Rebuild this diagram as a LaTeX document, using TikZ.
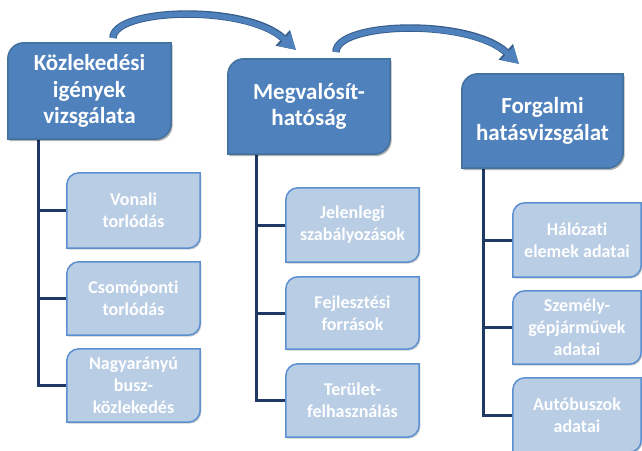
\documentclass[tikz,border=0pt]{standalone}
\usepackage{fontspec}
\setmainfont[Ligatures=NoCommon]{Carlito}
\usetikzlibrary{arrows.meta,backgrounds,shadows,calc}
\definecolor{topfill}{HTML}{4F81BD}
\definecolor{topedge}{HTML}{41719C}
\definecolor{subfill}{HTML}{B9CDE5}
\definecolor{subedge}{HTML}{5B8FD0}
\definecolor{connclr}{HTML}{1F3864}
\definecolor{arrowedge}{HTML}{385D8A}
\newcommand\diagshape[3]{%
  \path[#3] ([yshift=-#2]#1.north west) arc[start angle=180,end angle=90,radius=#2]
    -- (#1.north east) -- ([yshift=#2]#1.south east)
    arc[start angle=0,end angle=-90,radius=#2] -- (#1.south west) -- cycle;}
\tikzset{
  topbox/.style={text=white, align=center, inner sep=0pt,
    font=\fontsize{23}{26.5}\selectfont\bfseries},
  subbox/.style={text=white, align=center, inner sep=0pt,
    font=\fontsize{18}{22}\selectfont\bfseries},
  topshape/.style={fill=topfill, draw=topedge, line width=1.5pt,
    drop shadow={shadow xshift=1.5pt,shadow yshift=-2pt,opacity=0.3,fill=black}},
  subshape/.style={fill=subfill, draw=subedge, line width=1.5pt,
    drop shadow={shadow xshift=1.2pt,shadow yshift=-1.5pt,opacity=0.2,fill=black}},
  connline/.style={draw=connclr, line width=3pt},
  bentarrow/.style={line width=5.5pt, draw=topfill,
    -{Triangle[length=16pt,width=17pt]},
    preaction={draw=arrowedge, line width=7.5pt, -{Triangle[length=18pt,width=20pt]}}},
}
\begin{document}
\begin{tikzpicture}[x=1pt,y=1pt]
\useasboundingbox (0,0) rectangle (642,-450);

% top-level boxes
\node[topbox, minimum width=163, minimum height=96] (A) at (89.5,-91) {Közlekedési\\igények\\vizsgálata};
\node[topbox, minimum width=162, minimum height=95] (B) at (309,-106.5) {Megvalósít-\\hatóság};
\node[topbox, minimum width=161, minimum height=94] (C) at (542.5,-121) {Forgalmi\\hatásvizsgálat};

% children column 1
\node[subbox, minimum width=133, minimum height=75] (a1) at (133.5,-210.5) {Vonali\\torlódás};
\node[subbox, minimum width=133, minimum height=73] (a2) at (133.5,-298.5) {Csomóponti\\torlódás};
\node[subbox, minimum width=133, minimum height=73] (a3) at (133.5,-385.5) {Nagyarányú\\busz-\\közlekedés};
% children column 2
\node[subbox, minimum width=133, minimum height=74] (b1) at (352.5,-225) {Jelenlegi\\szabályozások};
\node[subbox, minimum width=133, minimum height=72] (b2) at (352.5,-313) {Fejlesztési\\források};
\node[subbox, minimum width=133, minimum height=73] (b3) at (352.5,-400.5) {Terület-\\felhasználás};
% children column 3
\node[subbox, minimum width=128, minimum height=74] (c1) at (577,-240) {Hálózati\\elemek adatai};
\node[subbox, minimum width=128, minimum height=73] (c2) at (577,-327.5) {Személy-\\gépjárművek\\adatai};
\node[subbox, minimum width=128, minimum height=74] (c3) at (577,-415) {Autóbuszok\\adatai};

% connector origins
\coordinate (a0) at (38,-139);
\coordinate (b0) at (256,-154);
\coordinate (c0) at (483,-168);
% arrow ends
\coordinate (p1s) at (113,-38);
\coordinate (p1e) at (296,-50);
\coordinate (p2s) at (336,-52);
\coordinate (p2e) at (519,-64);

\begin{scope}[on background layer]
  \draw[connline] (a0) |- (a1.west) (a0) |- (a2.west) (a0) |- (a3.west);
  \draw[connline] (b0) |- (b1.west) (b0) |- (b2.west) (b0) |- (b3.west);
  \draw[connline] (c0) |- (c1.west) (c0) |- (c2.west) (c0) |- (c3.west);
  \foreach \n in {A,B,C} {\diagshape{\n}{16pt}{topshape}}
  \foreach \n in {a1,a2,a3,b1,b2,b3,c1,c2,c3} {\diagshape{\n}{12pt}{subshape}}
\end{scope}

% curved arrows
\draw[bentarrow] (p1s) .. controls ($(p1s)+(0,30)$) and ($(p1e)+(-50,46)$) .. (p1e);
\draw[bentarrow] (p2s) .. controls ($(p2s)+(0,30)$) and ($(p2e)+(-50,46)$) .. (p2e);
\end{tikzpicture}
\end{document}
